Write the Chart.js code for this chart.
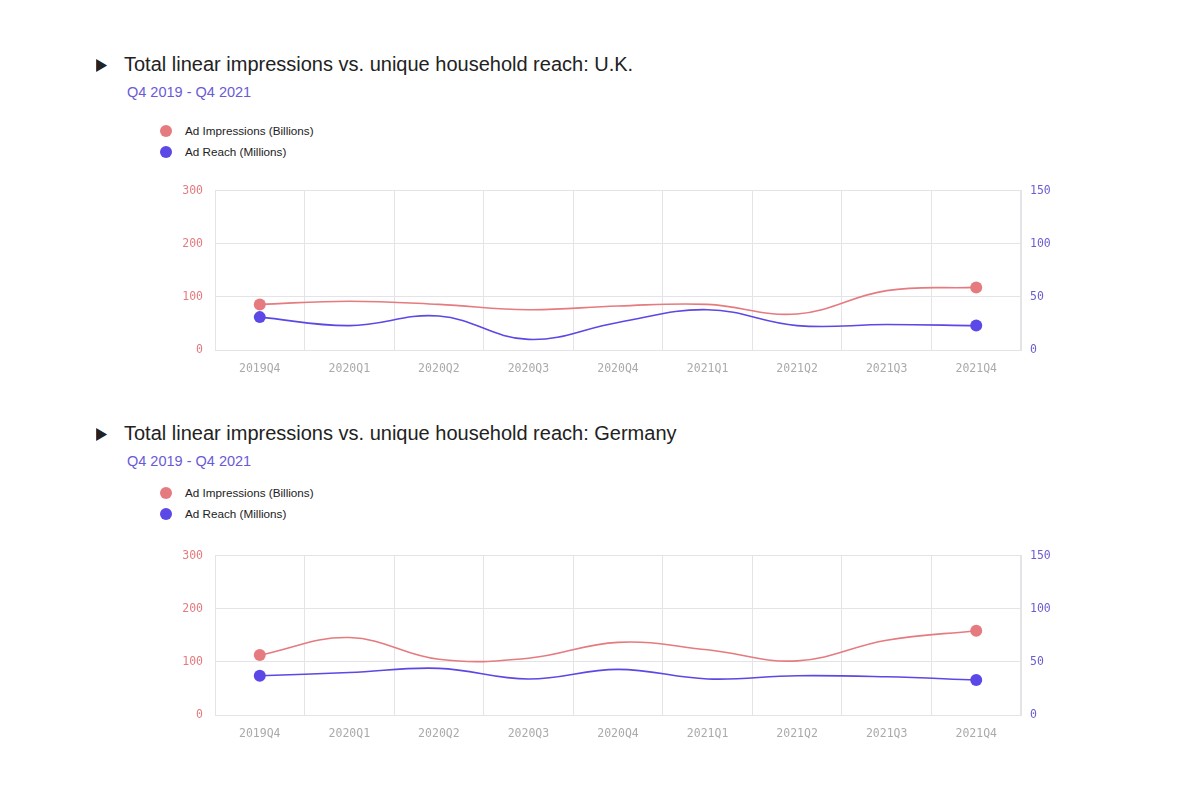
<!DOCTYPE html>
<html>
<head>
<meta charset="utf-8">
<script src="https://cdn.jsdelivr.net/npm/chart.js@4.4.1/dist/chart.umd.min.js"></script>
<style>
  body { margin: 0; background: #fff; font-family: "Liberation Sans", Arial, sans-serif; }
  .block { position: absolute; left: 0; width: 1200px; }
  .title { position: absolute; left: 96px; font-size: 20px; color: #222; white-space: nowrap; }
  .title .arrow { display: inline-block; width: 28px; font-size: 17px; vertical-align: 1px; transform: scaleX(0.85); transform-origin: left; }
  .sub { position: absolute; left: 127px; font-size: 14.5px; color: #6a5ad6; }
  .legend { position: absolute; left: 160px; font-size: 11.7px; color: #222; }
  .legend div { height: 21px; line-height: 21px; }
  .legend span { display: inline-block; width: 12px; height: 12px; border-radius: 50%; vertical-align: -2px; margin-right: 13px; }
  .wrap { position: absolute; left: 170px; width: 890px; height: 213px; }
</style>
</head>
<body>

<div class="block" style="top:0">
  <div class="title" style="top:53px"><span class="arrow">&#9654;</span>Total linear impressions vs. unique household reach: U.K.</div>
  <div class="sub" style="top:84px">Q4 2019 - Q4 2021</div>
  <div class="legend" style="top:120px">
    <div><span style="background:#e57b7f"></span>Ad Impressions (Billions)</div>
    <div><span style="background:#5b48e6"></span>Ad Reach (Millions)</div>
  </div>
  <div class="wrap" style="top:172px"><canvas id="ukChart"></canvas></div>
</div>

<div class="block" style="top:0">
  <div class="title" style="top:422px"><span class="arrow">&#9654;</span>Total linear impressions vs. unique household reach: Germany</div>
  <div class="sub" style="top:453px">Q4 2019 - Q4 2021</div>
  <div class="legend" style="top:482px">
    <div><span style="background:#e57b7f"></span>Ad Impressions (Billions)</div>
    <div><span style="background:#5b48e6"></span>Ad Reach (Millions)</div>
  </div>
  <div class="wrap" style="top:537px"><canvas id="deChart"></canvas></div>
</div>

<script>
/* -------------------------------
   DATA
--------------------------------*/
const quarters = ["2019Q4", "2020Q1", "2020Q2", "2020Q3", "2020Q4", "2021Q1", "2021Q2", "2021Q3", "2021Q4"];

const ukImpressions = [86, 92, 86, 76, 83, 86, 68, 112, 118];
const ukReach = [31, 23, 32, 10, 26, 38, 23, 24, 23];

const deImpressions = [113, 146, 105, 107, 137, 123, 102, 141, 159];
const deReach = [37, 40, 44, 34, 43, 34, 37, 36, 33];

const impressionsTicks = [0, 100, 200, 300];
const reachTicks = [0, 50, 100, 150];

/* -------------------------------
   CHART
--------------------------------*/
const RED = "#e57b7f";
const BLUE = "#5b48e6";
const GRID = "#e3e3e8";
const MONO = "'DejaVu Sans Mono', 'Liberation Mono', monospace";

function endPoints(ctx) {
  return (ctx.dataIndex === 0 || ctx.dataIndex === quarters.length - 1) ? 6 : 0;
}

function makeChart(id, impressions, reach) {
  return new Chart(document.getElementById(id), {
    type: "line",
    data: {
      labels: quarters,
      datasets: [
        {
          label: "Ad Impressions (Billions)",
          data: impressions,
          yAxisID: "y",
          borderColor: RED,
          backgroundColor: RED,
          borderWidth: 1.6,
          tension: 0.4,
          pointRadius: endPoints,
          pointBorderWidth: 0
        },
        {
          label: "Ad Reach (Millions)",
          data: reach,
          yAxisID: "y1",
          borderColor: BLUE,
          backgroundColor: BLUE,
          borderWidth: 1.6,
          tension: 0.4,
          pointRadius: endPoints,
          pointBorderWidth: 0
        }
      ]
    },
    options: {
      responsive: true,
      maintainAspectRatio: false,
      animation: false,
      layout: { padding: { top: 8, left: 0, right: 0, bottom: 0 } },
      plugins: { legend: { display: false }, tooltip: { enabled: false } },
      scales: {
        x: {
          offset: true,
          grid: { color: GRID, drawTicks: false, offset: true },
          border: { color: GRID },
          ticks: { color: "#aaa", padding: 12, font: { family: MONO, size: 11.5 } },
          afterFit: s => { s.height = 35; }
        },
        y: {
          position: "left",
          min: 0,
          max: 300,
          afterBuildTicks: s => { s.ticks = impressionsTicks.map(v => ({ value: v })); },
          grid: { color: GRID, drawTicks: false },
          border: { display: false },
          ticks: { color: RED, padding: 12, font: { family: MONO, size: 11.5 } },
          afterFit: s => { s.width = 45; }
        },
        y1: {
          position: "right",
          min: 0,
          max: 150,
          afterBuildTicks: s => { s.ticks = reachTicks.map(v => ({ value: v })); },
          grid: { display: false, drawTicks: false },
          border: { color: GRID },
          ticks: { color: "#6b5fd0", padding: 9, font: { family: MONO, size: 11.5 } },
          afterFit: s => { s.width = 39; }
        }
      }
    }
  });
}

/* -------------------------------
   START
--------------------------------*/
window.addEventListener("DOMContentLoaded", () => {
  makeChart("ukChart", ukImpressions, ukReach);
  makeChart("deChart", deImpressions, deReach);
});
</script>
</body>
</html>
